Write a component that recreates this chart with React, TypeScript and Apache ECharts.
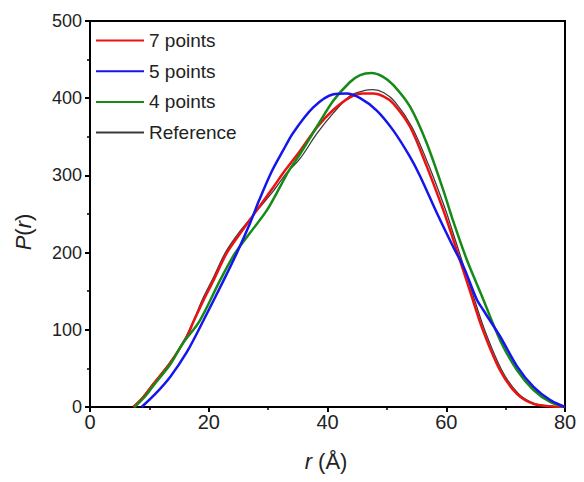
import React, { useEffect, useRef } from "react";
import * as echarts from "echarts";

const seriesNames = ["7 points", "5 points", "4 points", "Reference"];

const sevenPoints: number[][] = [
  [7.3, 0], [9, 13], [10.7, 30], [13.5, 57], [16.3, 91], [17.4, 110], [19.1, 138],
  [20.8, 164], [23, 199], [25.3, 225], [28.1, 255], [30.9, 285], [32.8, 306],
  [35.4, 332], [38.2, 362], [41, 385], [43.8, 401], [46, 406], [47.7, 406],
  [49.5, 402], [51.1, 393], [53.9, 363], [56.7, 312], [59.5, 255],
  [60.7, 228], [64, 150], [66.2, 99], [69.1, 47], [71.9, 17], [74.7, 4], [77.5, 1], [80, 0],
];

const fivePoints: number[][] = [
  [8.7, 0], [11, 17], [13.5, 39], [16.3, 71], [19.1, 112], [22.5, 164], [24.7, 199],
  [26.9, 237], [28.5, 268], [30.6, 305], [32.5, 332], [34.2, 355], [37.6, 388],
  [41, 405], [43.2, 406], [45.5, 400], [48.3, 384], [51.1, 358], [53.9, 324],
  [55.6, 299], [58.5, 250], [61.2, 207], [63, 180], [65.1, 140], [66.2, 126],
  [69.1, 91], [71.9, 53], [74.7, 26], [77.5, 9], [80, 0],
];

const fourPoints: number[][] = [
  [7.5, 0], [9.2, 13], [10.7, 28], [13.5, 55], [15.5, 81], [18.5, 112], [21.9, 164],
  [24.4, 199], [26.9, 225], [29.8, 255], [32, 285], [33.4, 305], [35.4, 328],
  [38.2, 363], [41, 397], [43.8, 421], [45.5, 430], [47.4, 432.6], [49.3, 428],
  [51.1, 417], [53.9, 389], [56.7, 342], [59.5, 281], [61.2, 240], [63.5, 190],
  [66.2, 140], [69.1, 86], [71.9, 48], [74.7, 22], [77.5, 6.5], [80, 0],
];

const reference: number[][] = [
  [7.3, 0], [9, 14], [10.7, 31], [13.5, 58], [16.3, 93], [19.1, 142], [20.8, 168],
  [22.8, 200], [25.3, 228], [28.1, 254], [30.9, 280], [33, 302], [35.4, 322],
  [38.2, 354], [41, 381], [43.8, 403], [46.3, 410], [47.7, 411], [49.5, 407],
  [51.4, 395], [54.2, 363], [57, 314], [59.8, 257], [61, 229],
  [64.3, 150], [66.5, 99], [69.4, 47], [72.2, 17], [75, 4], [77.5, 1], [80, 0],
];

const FONT = "'Liberation Sans', Arial, sans-serif";

export default function App() {
  const ref = useRef<HTMLDivElement>(null);

  useEffect(() => {
    if (!ref.current) return;
    const chart = echarts.init(ref.current, null, { renderer: "svg" });

    const mk = (name: string, data: number[][], color: string, width: number, z: number) => ({
      name,
      type: "line",
      data,
      showSymbol: false,
      symbol: "none",
      smooth: 0.3,
      z,
      lineStyle: { color, width },
      itemStyle: { color },
    });

    chart.setOption({
      animation: false,
      backgroundColor: "#ffffff",
      grid: {
        left: 90,
        right: 19,
        top: 21,
        bottom: 75,
        show: true,
        borderColor: "#000",
        borderWidth: 2,
        backgroundColor: "transparent",
      },
      legend: {
        data: seriesNames,
        orient: "vertical",
        left: 95,
        top: 31,
        padding: 0,
        itemWidth: 48,
        itemHeight: 14,
        itemGap: 11.7,
        itemStyle: { opacity: 0 },
        textStyle: { fontFamily: FONT, fontSize: 19, color: "#222" },
      },
      xAxis: {
        type: "value",
        min: 0,
        max: 80,
        interval: 20,
        axisLine: { show: true, onZero: false, lineStyle: { color: "#000", width: 2 } },
        axisTick: { show: true, inside: false, length: 5, lineStyle: { color: "#000", width: 2 } },
        minorTick: { show: true, splitNumber: 2, length: 3, lineStyle: { color: "#000", width: 1.5 } },
        splitLine: { show: false },
        axisLabel: { fontFamily: FONT, fontSize: 20, color: "#222", margin: 5 },
      },
      yAxis: {
        type: "value",
        min: 0,
        max: 500,
        interval: 100,
        axisLine: { show: true, onZero: false, lineStyle: { color: "#000", width: 2 } },
        axisTick: { show: true, inside: false, length: 5, lineStyle: { color: "#000", width: 2 } },
        minorTick: { show: true, splitNumber: 2, length: 3, lineStyle: { color: "#000", width: 1.5 } },
        splitLine: { show: false },
        axisLabel: { fontFamily: FONT, fontSize: 18, color: "#222", margin: 8 },
      },
      graphic: [
        {
          type: "text",
          x: 326,
          y: 461,
          style: {
            text: "{i|r} (Å)",
            align: "center",
            verticalAlign: "middle",
            fontFamily: FONT,
            fontSize: 22,
            fill: "#222",
            rich: { i: { fontStyle: "italic", fontFamily: FONT, fontSize: 22, fill: "#222" } },
          },
        },
        {
          type: "text",
          x: 23,
          y: 232,
          rotation: Math.PI / 2,
          style: {
            text: "{i|P}({i|r})",
            align: "center",
            verticalAlign: "middle",
            fontFamily: FONT,
            fontSize: 22,
            fill: "#222",
            rich: { i: { fontStyle: "italic", fontFamily: FONT, fontSize: 22, fill: "#222" } },
          },
        },
      ],
      series: [
        mk("Reference", reference, "#3a3a3a", 1.3, 2),
        mk("7 points", sevenPoints, "#ee1111", 2.5, 3),
        mk("4 points", fourPoints, "#168a16", 2.5, 4),
        mk("5 points", fivePoints, "#1515ee", 2.5, 5),
      ],
    });

    return () => chart.dispose();
  }, []);

  return (
    <div
      ref={ref}
      style={{ position: "fixed", left: 0, top: 0, width: 584, height: 482, background: "#fff" }}
    />
  );
}
